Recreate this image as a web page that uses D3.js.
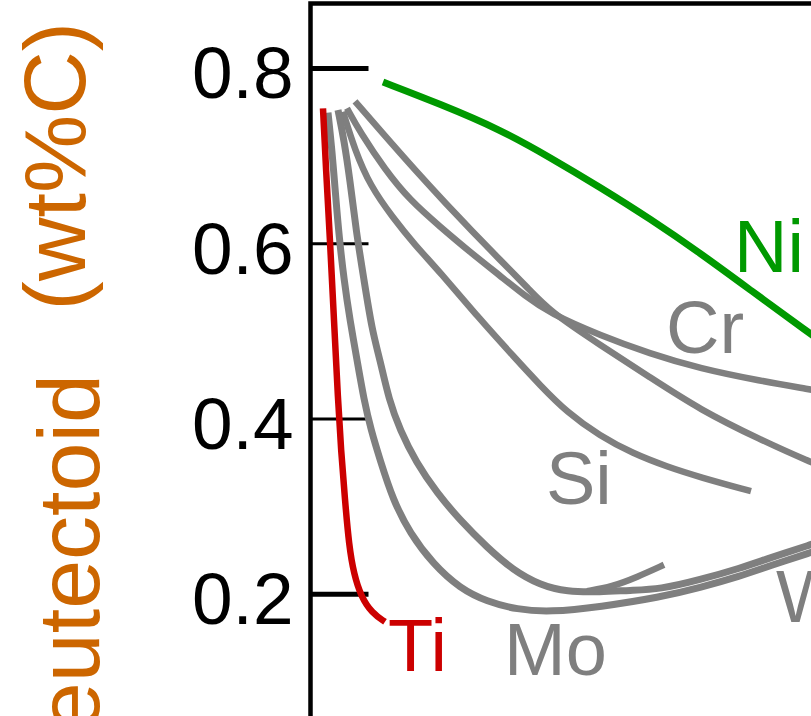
<!DOCTYPE html>
<html>
<head>
<meta charset="utf-8">
<script src="https://cdn.jsdelivr.net/npm/d3@7/dist/d3.min.js"></script>
<style>
  body { margin: 0; background: #fff; }
  svg { display: block; }
</style>
</head>
<body>
<div id="graph"></div>
<script>
// values: [wt% alloying element, eutectoid wt%C]
const ni = [[0.71, 0.784], [1.28, 0.759], [1.88, 0.730], [2.38, 0.698], [2.88, 0.664], [3.38, 0.628], [3.88, 0.589], [4.38, 0.547], [4.99, 0.496], [5.18, 0.481]];
const ti = [[0.11, 0.754], [0.14, 0.684], [0.18, 0.604], [0.22, 0.512], [0.26, 0.421], [0.29, 0.364], [0.33, 0.307], [0.37, 0.255], [0.42, 0.222], [0.49, 0.197], [0.60, 0.178], [0.73, 0.168]];
const mo = [[0.16, 0.749], [0.20, 0.706], [0.24, 0.649], [0.27, 0.609], [0.32, 0.558], [0.38, 0.512], [0.45, 0.467], [0.52, 0.421], [0.59, 0.387], [0.68, 0.353], [0.81, 0.307], [0.98, 0.269], [1.21, 0.234], [1.48, 0.206], [1.75, 0.191], [2.05, 0.182], [2.38, 0.179], [2.88, 0.185], [3.48, 0.196], [3.88, 0.207], [4.28, 0.220], [4.58, 0.232], [4.99, 0.247], [5.18, 0.255]];
const w = [[0.26, 0.752], [0.32, 0.718], [0.38, 0.672], [0.44, 0.615], [0.52, 0.558], [0.60, 0.501], [0.68, 0.467], [0.77, 0.421], [0.88, 0.387], [1.04, 0.350], [1.25, 0.315], [1.48, 0.284], [1.75, 0.253], [2.01, 0.227], [2.28, 0.210], [2.55, 0.202], [2.88, 0.202], [3.18, 0.204], [3.48, 0.205], [3.88, 0.216], [4.28, 0.229], [4.58, 0.241], [4.99, 0.256], [5.18, 0.264]];
const hook = [[2.75, 0.203], [3.00, 0.208], [3.25, 0.219], [3.52, 0.233]];
const si = [[0.31, 0.750], [0.43, 0.706], [0.58, 0.666], [0.81, 0.629], [1.03, 0.598], [1.28, 0.567], [1.65, 0.517], [2.03, 0.469], [2.28, 0.438], [2.55, 0.407], [2.88, 0.380], [3.21, 0.360], [3.55, 0.345], [3.88, 0.333], [4.39, 0.317]];
const cr = [[0.35, 0.754], [0.48, 0.727], [0.73, 0.684], [0.98, 0.649], [1.28, 0.619], [1.58, 0.590], [1.88, 0.563], [2.13, 0.540], [2.38, 0.520], [2.88, 0.495], [3.38, 0.474], [3.88, 0.457], [4.48, 0.443], [4.99, 0.433], [5.18, 0.429]];
const mn = [[0.43, 0.762], [0.68, 0.729], [1.05, 0.681], [1.35, 0.644], [1.60, 0.614], [1.88, 0.581], [2.15, 0.550], [2.38, 0.522], [2.88, 0.484], [3.38, 0.447], [3.88, 0.410], [4.48, 0.376], [4.99, 0.350], [5.18, 0.342]];

const yTicks = [0.2, 0.4, 0.6, 0.8];
const yLabel = ["eutectoid", "(wt%C)"];

// element names and where they sit (data coords)
const labelNames = ["Ni", "Cr", "Si", "Mo", "Ti", "W"];
const labelAt = [[4.22, 0.567], [3.54, 0.475], [2.34, 0.302], [1.92, 0.107], [0.76, 0.112], [4.64, 0.168]];

const width = 811, height = 716;
const gray = "#7f7f7f", red = "#cc0000", green = "#009900", orange = "#cc6600";
const font = "'Liberation Sans', Arial, sans-serif";

var svg = d3.select("#graph").append("svg").attr("width", width).attr("height", height)
    .style("overflow", "hidden");

var x = d3.scaleLinear().domain([0, 5]).range([312, 812]);
var y = d3.scaleLinear().domain([0, 0.8]).range([769, 68]);
var axisX = 310.5;

// y axis, ticks point into the plot
var yAxis = svg.append("g").attr("transform", "translate(" + axisX + ",0)")
    .call(d3.axisLeft(y).tickValues(yTicks).tickFormat(d3.format(".1f")).tickSize(-58).tickPadding(17));
yAxis.select(".domain").remove();
yAxis.selectAll(".tick line").attr("stroke", "#000")
    .attr("stroke-width", function (d) { return (d == 0.8 || d == 0.2) ? 5 : 3; });
yAxis.selectAll(".tick text").attr("fill", "#000").attr("dy", "0.41em")
    .style("font-family", font).style("font-size", "73px");

// frame: left and top edges
svg.append("path").attr("d", "M" + axisX + "," + (height + 10) + "V3.5H" + (width + 10))
    .attr("fill", "none").attr("stroke", "#000").attr("stroke-width", 4.5);

var line = d3.line().x(function (d) { return x(d[0]); }).y(function (d) { return y(d[1]); })
    .curve(d3.curveBasis);

var curves = [
    { data: mn, color: gray, sw: 6.5 },
    { data: cr, color: gray, sw: 6.5 },
    { data: si, color: gray, sw: 6.5 },
    { data: w, color: gray, sw: 7 },
    { data: mo, color: gray, sw: 7 },
    { data: hook, color: gray, sw: 6.5 },
    { data: ni, color: green, sw: 7 },
    { data: ti, color: red, sw: 6.5 }
];

svg.selectAll("path.curve").data(curves).enter().append("path").attr("class", "curve")
    .attr("d", function (d) { return line(d.data); })
    .attr("fill", "none")
    .attr("stroke", function (d) { return d.color; })
    .attr("stroke-width", function (d) { return d.sw; })
    .attr("stroke-linejoin", "round");

var labelColors = [green, gray, gray, gray, red, gray];
svg.selectAll("text.el").data(labelNames).enter().append("text").attr("class", "el")
    .attr("x", function (d, i) { return x(labelAt[i][0]); })
    .attr("y", function (d, i) { return y(labelAt[i][1]); })
    .attr("fill", function (d, i) { return labelColors[i]; })
    .style("font-family", font).style("font-size", "74px")
    .text(function (d) { return d; });

// rotated axis title, "eutectoid" sits a bit lower like a subscript
svg.append("text").attr("transform", "translate(99,374) rotate(-90)")
    .attr("text-anchor", "end").attr("fill", orange)
    .style("font-family", font).style("font-size", "88px").text(yLabel[0]);
svg.append("text").attr("transform", "translate(85,22) rotate(-90)")
    .attr("text-anchor", "end").attr("fill", orange)
    .style("font-family", font).style("font-size", "88px").text(yLabel[1]);
</script>
</body>
</html>
